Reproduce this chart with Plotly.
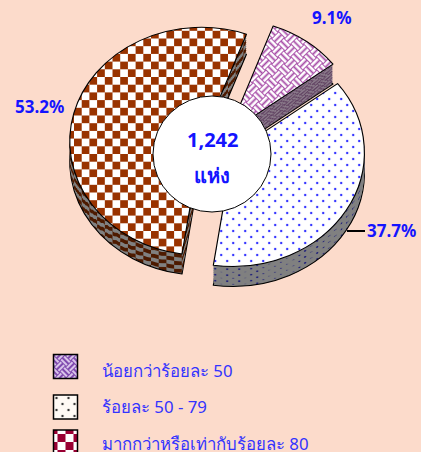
import plotly.graph_objects as go

W, H = 421, 452
categories = ["น้อยกว่าร้อยละ 50", "ร้อยละ 50 - 79", "มากกว่าหรือเท่ากับร้อยละ 80"]
shares = [9.1, 37.7, 53.2]
total_sites = "1,242"
unit_label = "แห่ง"
BG = "#FCDBCB"
BLUE = "#1414FF"
FONT = "Noto Sans, DejaVu Sans, sans-serif"

PULL = [0.13, 0.13, 0.13]
R, CX, CY = 114, 218, 145
SX = 1.155
DEPTH_STEP, DEPTH_LAYERS = 2, 10
ROT = 20
half = R * (1 + max(PULL))


def pie(shift, colors, line_w, legend):
    return go.Pie(
        labels=categories, values=shares, sort=False, direction="clockwise",
        rotation=ROT, pull=PULL, textinfo="none", hoverinfo="label+percent",
        showlegend=legend,
        marker=dict(colors=colors, line=dict(color="black", width=line_w)),
        domain=dict(x=[(CX - half) / W, (CX + half) / W],
                    y=[1 - (CY + shift + half) / H, 1 - (CY + shift - half) / H]),
    )


fig = go.Figure()
for i in range(DEPTH_LAYERS, 0, -1):
    fig.add_trace(pie(i * DEPTH_STEP, ["#6b4a6b", "#808080", "#4d1a00"],
                      1 if i == DEPTH_LAYERS else 0, False))
fig.add_trace(pie(0, ["#cc99cc", "#ffffff", "#993300"], 1, True))


def ann(text, x, y, size, **kw):
    return dict(text=text, x=x / W, y=1 - y / H, xref="paper", yref="paper", showarrow=False,
                xanchor="center", yanchor="middle",
                font=dict(family=FONT, size=size, color=BLUE), **kw)


labels_text = [f"{v}%" for v in shares]
annotations = [
    ann(f"<b>{labels_text[0]}</b>", 332, 18, 17),
    ann(f"<b>{labels_text[2]}</b>", 39, 106, 17),
    dict(text=f"<b>{labels_text[1]}</b>", x=347 / W, y=1 - 231 / H, xref="paper", yref="paper",
         showarrow=True, arrowhead=0, arrowwidth=2, arrowcolor="black", ax=44, ay=0,
         font=dict(family=FONT, size=17, color=BLUE)),
    ann(f"<b>{total_sites}</b>", 212, 139, 20),
    ann(f"<b>{unit_label}</b>", 212, 175, 20),
]

fig.update_layout(
    width=W, height=H, margin=dict(l=0, r=0, t=0, b=0), paper_bgcolor=BG,
    annotations=annotations,
    shapes=[dict(type="circle", xref="paper", yref="paper", x0=153 / W, x1=271 / W,
                 y0=1 - 212 / H, y1=1 - 96 / H, fillcolor="white",
                 line=dict(color="black", width=1))],
    legend=dict(x=0, y=0.2, xanchor="left", yanchor="top", itemwidth=60,
                bgcolor="rgba(0,0,0,0)", font=dict(family=FONT, size=16.8, color="#3333FF")),
)

post = """
document.body.style.margin='0';
var NS='http://www.w3.org/2000/svg', SX=%f, STEP=%d, LAYERS=%d;
var CX=%d;
var gd=document.getElementById('{plot_id}');
var svg=gd.querySelector('svg.main-svg');
var defs=document.createElementNS(NS,'defs'); svg.appendChild(defs);
function add(id,w,h,body,tf){
  var p=document.createElementNS(NS,'pattern');
  p.setAttribute('id',id);p.setAttribute('width',w);p.setAttribute('height',h);
  p.setAttribute('patternUnits','userSpaceOnUse');
  if(tf)p.setAttribute('patternTransform',tf);
  p.innerHTML=body;defs.appendChild(p);
}
function checker(a,b,s){return '<rect width="'+2*s+'" height="'+2*s+'" fill="'+b+'"/><rect width="'+s+'" height="'+s+'" fill="'+a+'"/><rect x="'+s+'" y="'+s+'" width="'+s+'" height="'+s+'" fill="'+a+'"/>';}
function dots(bg,c,s,r){return '<rect width="'+s+'" height="'+s+'" fill="'+bg+'"/><circle cx="'+s/4+'" cy="'+s/4+'" r="'+r+'" fill="'+c+'"/><circle cx="'+3*s/4+'" cy="'+3*s/4+'" r="'+r+'" fill="'+c+'"/>';}
function weave(bg,c,a){
  var t=a*0.3, g=a*0.5, s='<rect width="'+2*a+'" height="'+2*a+'" fill="'+bg+'"/>';
  function h(x,y){return '<rect x="'+x+'" y="'+(y+a*0.1)+'" width="'+a+'" height="'+t+'" fill="'+c+'"/><rect x="'+x+'" y="'+(y+a*0.1+g)+'" width="'+a+'" height="'+t+'" fill="'+c+'"/>';}
  function v(x,y){return '<rect y="'+y+'" x="'+(x+a*0.1)+'" height="'+a+'" width="'+t+'" fill="'+c+'"/><rect y="'+y+'" x="'+(x+a*0.1+g)+'" height="'+a+'" width="'+t+'" fill="'+c+'"/>';}
  return s+h(0,0)+v(a,0)+v(0,a)+h(a,a);
}
var bodies=[
 [18,18,weave('#a548a5','#ffffff',9),weave('#5e3f60','#8a7a8a',9),'rotate(45)'],
 [12,12,dots('#ffffff','#3333ff',12,1.2),dots('#808080','#22227a',12,1.2),''],
 [15.4,15.4,checker('#993300','#ffffff',7.7),checker('#4d1a00','#808080',7.7),'']
];
var scale='scale('+(1/SX)+',1)';
var traces=gd.querySelectorAll('.pielayer .trace');
traces.forEach(function(t,ti){
  var top=(ti===traces.length-1);
  var shift=top?0:(LAYERS-ti)*STEP;
  t.querySelectorAll('path.surface').forEach(function(p,si){
    var b=bodies[si], id='pat'+ti+'_'+si;
    add(id,b[0],b[1],top?b[2]:b[3],'translate(0,'+(-shift)+') '+scale+' '+b[4]);
    p.style.fill='url(#'+id+')';
  });
});
var pl=gd.querySelector('.pielayer');
pl.setAttribute('transform','translate('+CX+',0) scale('+SX+',1) translate('+(-CX)+',0)');
add('sw0',16,16,weave('#6a2ca0','#d9c4ea',8),'rotate(45)');
add('sw1',12,12,'<rect width="12" height="12" fill="#fffaf5"/><circle cx="3" cy="3" r="1.2" fill="#333"/><circle cx="9" cy="9" r="1.2" fill="#333"/>');
add('sw2',16,16,checker('#990033','#ffffff',8));
var cy=[366.5,407,442], ty=[371,407,444];
var lg=gd.querySelector('.legend');
lg.setAttribute('transform','translate(0,0)');
lg.querySelectorAll('.scrollbox').forEach(function(s){s.removeAttribute('clip-path');s.setAttribute('transform','translate(0,0)');});
lg.querySelectorAll('.traces').forEach(function(t,i){
  t.setAttribute('transform','translate(0,0)');
  var tx=t.querySelector('text.legendtext');
  tx.setAttribute('x',102);tx.setAttribute('y',ty[i]+6);
  tx.querySelectorAll('tspan').forEach(function(s){s.setAttribute('x',102);});
  var r=t.querySelector('path.legendpie');
  r.setAttribute('d','M12,12H-12V-12H12Z');
  r.setAttribute('transform','translate(65.5,'+cy[i]+')');
  r.style.fill='url(#sw'+i+')';r.style.stroke='#000';r.style.strokeWidth='1.5px';
  var ht=t.querySelector('.legendtoggle'); if(ht)ht.setAttribute('y',cy[i]-18);
});
""" % (SX, DEPTH_STEP, DEPTH_LAYERS, CX)

fig.write_html("out.html", post_script=post, config=dict(displayModeBar=False))
